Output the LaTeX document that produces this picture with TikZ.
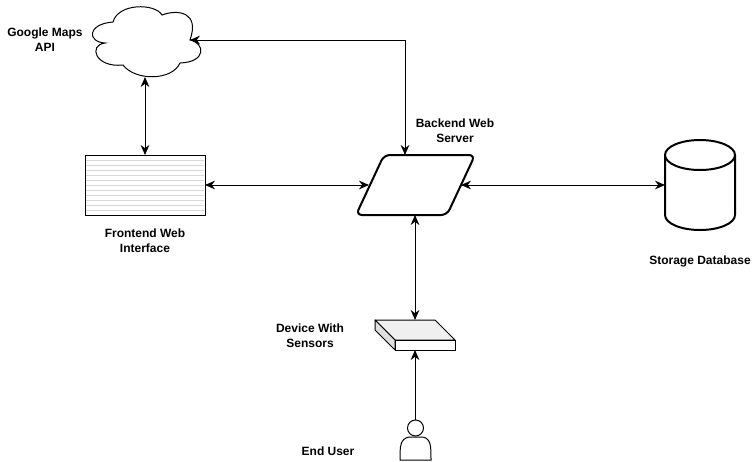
\documentclass[tikz,border=0pt]{standalone}
\usepackage{fontspec}
\setmainfont{Liberation Sans}
\usetikzlibrary{arrows.meta}
\tikzset{
  px/.style={x=0.75pt,y=-0.75pt},
  link/.style={draw=black,line width=0.75pt,{Stealth[length=7.5pt,width=6.5pt]}-{Stealth[length=7.5pt,width=6.5pt]}},
  linkone/.style={draw=black,line width=0.75pt,-{Stealth[length=7.5pt,width=6.5pt]}},
  shapeline/.style={draw=black,line width=0.75pt},
  heavy/.style={draw=black,line width=1.5pt,line join=round},
  caption/.style={font=\bfseries\fontsize{9}{11.2}\selectfont,align=center,text=black,inner sep=0pt},
  anchorpt/.style={inner sep=0pt,minimum size=0pt,outer sep=0pt},
}
\definecolor{rulegrey}{HTML}{D8D8D8}
\definecolor{devtop}{HTML}{F0F0F0}
\definecolor{devside}{HTML}{E0E0E0}
\begin{document}
\begin{tikzpicture}[px]
\useasboundingbox (0,0) rectangle (756,461);
\fill[white] (0,0) rectangle (756,461);

% cloud
\draw[shapeline,fill=white] (105,43)
  .. controls (87,42) and (87,24) .. (113,22)
  .. controls (118,3) and (155,3) .. (162,15)
  .. controls (178,9) and (200,12) .. (190,40)
  .. controls (205,43) and (207,62) .. (180,63)
  .. controls (172,81) and (135,81) .. (123,65)
  .. controls (95,68) and (88,45) .. (105,43) -- cycle;

% frontend
\node[shapeline,fill=white,minimum width=90pt,minimum height=45pt,anchor=north west,inner sep=0pt,outer sep=0pt] (front) at (85,155) {};
\foreach \yy in {160,165,...,210}
  \draw[rulegrey,line width=0.75pt] (86,\yy) -- (204,\yy);
\draw[shapeline] (85,155) rectangle (205,215);

% parallelogram
\draw[heavy,fill=white,rounded corners=4.5pt] (384,155) -- (475,155) -- (447,215) -- (356,215) -- cycle;

% cylinder
\draw[heavy,fill=white] (665,155) -- (665,215) arc[start angle=180,end angle=0,x radius=35,y radius=15] -- (735,155);
\draw[heavy,fill=white] (700,155) ellipse[x radius=35,y radius=15];

% device
\draw[shapeline,fill=devtop,line join=round] (375,320) -- (435,320) -- (455,340) -- (395,340) -- cycle;
\draw[shapeline,fill=devside,line join=round] (375,320) -- (395,340) -- (395,350) -- (375,330) -- cycle;
\draw[shapeline,fill=white] (395,340) rectangle (455,350);

% user
\draw[shapeline,fill=white] (400,460) .. controls (400,446) and (400,439) .. (409,437) -- (423,437) .. controls (431,439) and (431,446) .. (431,460) -- cycle;
\draw[shapeline,fill=white] (415.5,428) circle[radius=8];

% anchor points
\node[anchorpt] (cloudB) at (145,77) {};
\node[anchorpt] (cloudR) at (190,40) {};
\node[anchorpt] (frontT) at (145,155) {};
\node[anchorpt] (frontR) at (205,185) {};
\node[anchorpt] (serverL) at (369,185) {};
\node[anchorpt] (serverT) at (405,155) {};
\node[anchorpt] (serverR) at (461,185) {};
\node[anchorpt] (serverB) at (415,215) {};
\node[anchorpt] (dbL) at (665,185) {};
\node[anchorpt] (devT) at (415,320) {};
\node[anchorpt] (devB) at (415,350) {};
\node[anchorpt] (userT) at (415,420) {};
\coordinate (elbow) at (405,40);

% connectors
\draw[link] (cloudB) -- (frontT);
\draw[link] (cloudR) -- (elbow) -- (serverT);
\draw[link] (frontR) -- (serverL);
\draw[link] (serverR) -- (dbL);
\draw[link] (serverB) -- (devT);
\draw[linkone] (userT) -- (devB);

% labels
\node[caption] (l1) at (45,40) {Google Maps\\API};
\node[caption] (l2) at (455,131) {Backend Web\\Server};
\node[caption] (l3) at (145,241) {Frontend Web\\Interface};
\node[caption] (l4) at (700,261) {Storage Database};
\node[caption] (l5) at (310,336) {Device With\\Sensors};
\node[caption] (l6) at (328,451) {End User};
\end{tikzpicture}
\end{document}
